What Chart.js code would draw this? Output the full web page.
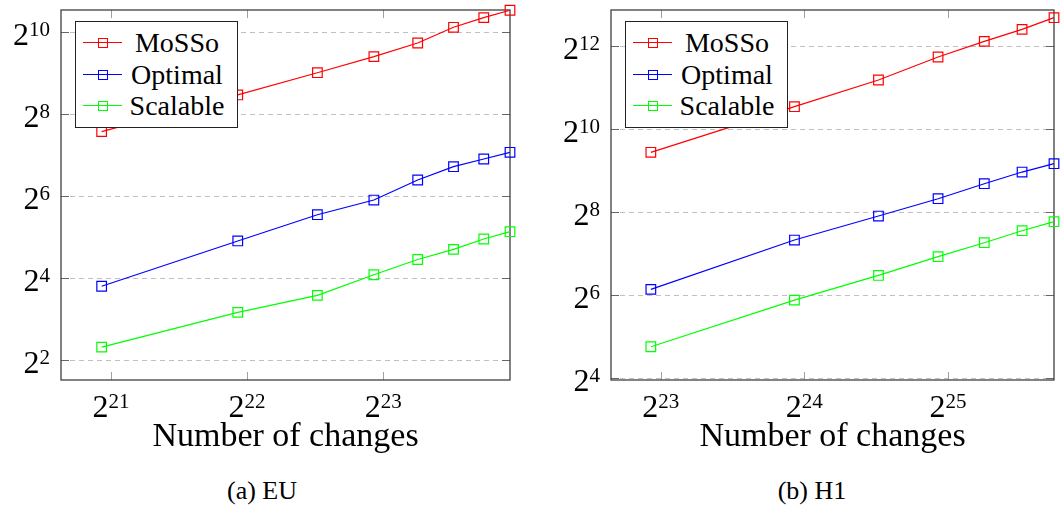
<!DOCTYPE html>
<html>
<head>
<meta charset="utf-8">
<script src="https://cdn.jsdelivr.net/npm/chart.js@4.4.1/dist/chart.umd.min.js"></script>
<style>
  body { margin:0; background:#fff; width:1062px; height:512px; overflow:hidden; position:relative;
         font-family:"Liberation Serif", serif; color:#000; }
  .panel { position:absolute; top:0; height:460px; }
  #euPanel { left:0; width:530px; }
  #h1Panel { left:530px; width:532px; }
  .caption { position:absolute; top:476px; width:200px; font-size:26px; text-align:center; }
  .legend { position:absolute; border:1px solid #222; background:#fff; padding:5px 12px 5px 7px; }
  .legend .row { display:flex; align-items:center; height:31.7px; }
  .legend .sym { position:relative; width:39px; height:10px; margin-right:7px; }
  .legend .ln { position:absolute; left:0; right:0; top:4px; border-top:1.2px solid; }
  .legend .mk { position:absolute; left:14.5px; top:0; width:8px; height:8px; border:1.2px solid; }
  .legend .txt { width:96px; text-align:center; font-size:28px; line-height:30px; }
</style>
</head>
<body>
<div class="panel" id="euPanel"><canvas id="euChart" width="530" height="460"></canvas></div>
<div class="panel" id="h1Panel"><canvas id="h1Chart" width="532" height="460"></canvas></div>
<div class="caption" style="left:162px">(a) EU</div>
<div class="caption" style="left:712px">(b) H1</div>
<script>
// EU dataset
const euChanges  = [2e6, 4e6, 6e6, 8e6, 10e6, 12e6, 14e6, 16e6];
const euMoSSo    = [191, 355, 517, 678, 854, 1114, 1311, 1486];
const euOptimal  = [14.0, 30.1, 46.9, 60.1, 84.3, 105.6, 120.3, 134.6];
const euScalable = [5.0, 9.0, 12.0, 17.0, 22.0, 26.1, 31.1, 35.2];
const euXTickExps = [21, 22, 23];
const euYTickExps = [2, 4, 6, 8, 10];

// H1 dataset
const h1Changes  = [8e6, 16e6, 24e6, 32e6, 40e6, 48e6, 56e6];
const h1MoSSo    = [695, 1488, 2322, 3409, 4427, 5408, 6571];
const h1Optimal  = [70.6, 160.8, 240, 320.5, 411.6, 500, 574.8];
const h1Scalable = [27.1, 59.0, 89.1, 121.8, 153.8, 187.9, 218.4];
const h1XTickExps = [23, 24, 25];
const h1YTickExps = [4, 6, 8, 10, 12];

const seriesNames  = ['MoSSo', 'Optimal', 'Scalable'];
const seriesColors = ['#ff0000', '#0000ff', '#00ff00'];

function makeDatasets(xs, ys) {
    return ys.map((vals, i) => ({
        label: seriesNames[i],
        data: xs.map((x, j) => ({x: x, y: vals[j]})),
        borderColor: seriesColors[i],
        borderWidth: 1.2,
        pointStyle: 'rect',
        pointRadius: 6.8,
        pointBorderWidth: 1.2,
        pointBorderColor: seriesColors[i],
        pointBackgroundColor: 'rgba(0,0,0,0)',
        tension: 0,
        clip: false
    }));
}

// frame, inner tick marks
const frameTicks = {
    id: 'frameTicks',
    beforeDatasetsDraw(chart) {
        const {ctx, chartArea: a, scales} = chart;
        const x = scales.x, y = scales.y;
        ctx.save();
        ctx.lineWidth = 1;
        ctx.strokeStyle = '#a0a0a0';
        ctx.beginPath();
        x.ticks.forEach(t => {
            const px = Math.round(x.getPixelForValue(t.value)) + 0.5;
            ctx.moveTo(px, a.bottom); ctx.lineTo(px, a.bottom - 8);
            ctx.moveTo(px, a.top); ctx.lineTo(px, a.top + 8);
        });
        ctx.stroke();
        ctx.strokeStyle = '#666';
        ctx.beginPath();
        y.ticks.forEach(t => {
            const py = Math.round(y.getPixelForValue(t.value)) + 0.5;
            ctx.moveTo(a.left, py); ctx.lineTo(a.left + 8, py);
            ctx.moveTo(a.right, py); ctx.lineTo(a.right - 8, py);
        });
        ctx.stroke();
        ctx.strokeStyle = '#404040';
        ctx.lineWidth = 1.3;
        ctx.strokeRect(a.left, a.top, a.right - a.left, a.bottom - a.top);
        ctx.restore();
    }
};

// tick labels as 2 with a raised exponent
const powerTicks = {
    id: 'powerTicks',
    afterDraw(chart) {
        const {ctx, chartArea: a, scales} = chart;
        const baseFont = '32px "Liberation Serif"', supFont = '21px "Liberation Serif"';
        ctx.save();
        ctx.fillStyle = '#000';
        ctx.textAlign = 'left';
        ctx.textBaseline = 'alphabetic';
        function draw(v, left, baseY) {
            const e = String(Math.round(Math.log2(v)));
            ctx.font = baseFont;
            ctx.fillText('2', left, baseY);
            const wb = ctx.measureText('2').width;
            ctx.font = supFont;
            ctx.fillText(e, left + wb, baseY - 9);
        }
        function width(v) {
            const e = String(Math.round(Math.log2(v)));
            ctx.font = baseFont;
            let w = ctx.measureText('2').width;
            ctx.font = supFont;
            return w + ctx.measureText(e).width;
        }
        scales.x.ticks.forEach(t => {
            const px = scales.x.getPixelForValue(t.value);
            draw(t.value, px - width(t.value) / 2, a.bottom + 36.5);
        });
        scales.y.ticks.forEach(t => {
            const py = scales.y.getPixelForValue(t.value);
            draw(t.value, a.left - 11 - width(t.value), py + 13);
        });
        ctx.restore();
    }
};

// legend box built from the datasets
const boxLegend = {
    id: 'boxLegend',
    afterRender(chart) {
        const panel = chart.canvas.parentNode;
        let box = panel.querySelector('.legend');
        if (!box) {
            box = document.createElement('div');
            box.className = 'legend';
            chart.data.datasets.forEach(ds => {
                const row = document.createElement('div');
                row.className = 'row';
                row.innerHTML = '<div class="sym"><div class="ln" style="border-color:' + ds.borderColor +
                    '"></div><div class="mk" style="border-color:' + ds.borderColor +
                    '"></div></div><div class="txt">' + ds.label + '</div>';
                box.appendChild(row);
            });
            panel.appendChild(box);
        }
        box.style.left = (chart.chartArea.left + 14) + 'px';
        box.style.top = (chart.chartArea.top + 11) + 'px';
    }
};

function makeChart(id, xs, ys, xExps, yExps, xRange, yRange, yWidth, padRight) {
    return new Chart(document.getElementById(id), {
        type: 'line',
        data: { datasets: makeDatasets(xs, ys) },
        options: {
            responsive: false,
            animation: false,
            events: [],
            layout: { padding: { top: 10, right: padRight, left: 0, bottom: 0 } },
            plugins: { legend: { display: false }, tooltip: { enabled: false } },
            scales: {
                x: {
                    type: 'logarithmic',
                    min: xRange[0], max: xRange[1],
                    afterBuildTicks: s => { s.ticks = xExps.map(e => ({value: 2 ** e})); },
                    afterFit: s => { s.height = 80; s.paddingLeft = 0; s.paddingRight = 0; },
                    grid: { display: false, drawTicks: false },
                    border: { display: false },
                    ticks: { display: false, autoSkip: false },
                    title: {
                        display: true, text: 'Number of changes', color: '#000',
                        font: { family: 'Liberation Serif', size: 34, lineHeight: 1.2 },
                        padding: { top: 0, bottom: 3 }
                    }
                },
                y: {
                    type: 'logarithmic',
                    min: yRange[0], max: yRange[1],
                    afterBuildTicks: s => { s.ticks = yExps.map(e => ({value: 2 ** e})); },
                    afterFit: s => { s.width = yWidth; s.paddingTop = 0; s.paddingBottom = 0; },
                    grid: { color: '#c0c0c0', lineWidth: 1, drawTicks: false },
                    border: { display: false, dash: [5, 4] },
                    ticks: { display: false, autoSkip: false }
                }
            }
        },
        plugins: [frameTicks, powerTicks, boxLegend]
    });
}

makeChart('euChart', euChanges, [euMoSSo, euOptimal, euScalable], euXTickExps, euYTickExps,
          [1.626e6, 16e6], [2.87, 1492], 61, 20);
makeChart('h1Chart', h1Changes, [h1MoSSo, h1Optimal, h1Scalable], h1XTickExps, h1YTickExps,
          [6.6e6, 56e6], [15.56, 7470], 81, 4);
</script>
</body>
</html>
